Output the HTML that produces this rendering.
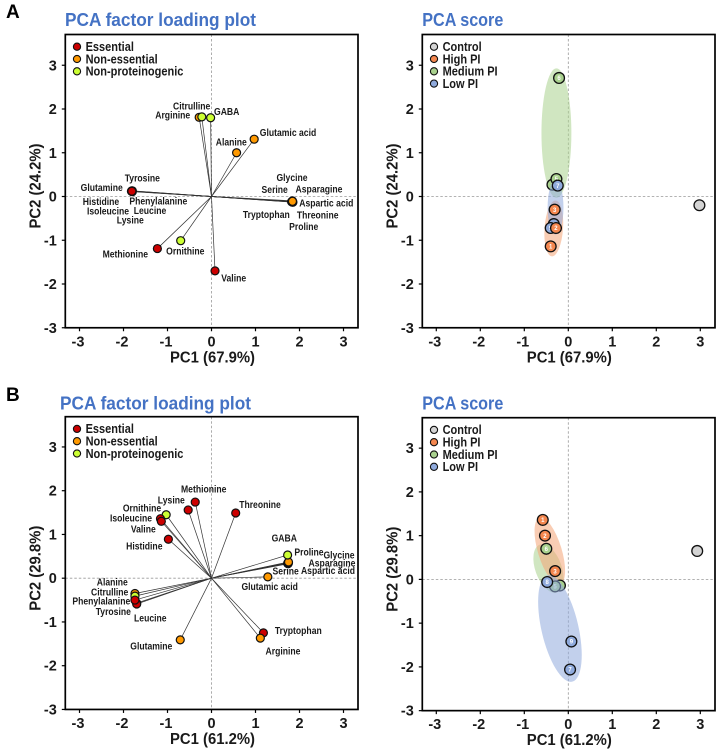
<!DOCTYPE html>
<html>
<head>
<meta charset="utf-8">
<style>
html,body{margin:0;padding:0;background:#fff;width:717px;height:749px;overflow:hidden}
svg{display:block;filter:blur(0.3px)}
text{font-family:"Liberation Sans",sans-serif;font-weight:bold;fill:#1a1a1a}
.lab{font-size:10.5px;text-anchor:middle}
.ttl{font-size:18.5px;fill:#4472c4}
.tk{font-size:14.5px}
.at{font-size:15.5px}
.lg{font-size:12.5px}
.pl{font-size:19px;fill:#000}
</style>
</head>
<body>
<svg id="chart" width="717" height="749" viewBox="0 0 717 749" xmlns="http://www.w3.org/2000/svg">
<text class="pl" x="6" y="18">A</text>
<text class="pl" x="6" y="401">B</text>
<text class="ttl" x="65" y="26" textLength="191" lengthAdjust="spacingAndGlyphs">PCA factor loading plot</text>
<text class="ttl" x="422.3" y="26" textLength="81" lengthAdjust="spacingAndGlyphs">PCA score</text>
<text class="ttl" x="60" y="409.3" textLength="191" lengthAdjust="spacingAndGlyphs">PCA factor loading plot</text>
<text class="ttl" x="422.3" y="409.3" textLength="81" lengthAdjust="spacingAndGlyphs">PCA score</text>
<g id="plots"></g>
<g id="labels-a">
<text class="lab" x="191.7" y="109.3">Citrulline</text>
<text class="lab" x="172.7" y="118.3">Arginine</text>
<text class="lab" x="226.7" y="115">GABA</text>
<text class="lab" x="288" y="136">Glutamic acid</text>
<text class="lab" x="231.3" y="145.3">Alanine</text>
<text class="lab" x="142.3" y="181.6">Tyrosine</text>
<text class="lab" x="101.7" y="191">Glutamine</text>
<text class="lab" x="101" y="205">Histidine</text>
<text class="lab" x="158.3" y="204.3">Phenylalanine</text>
<text class="lab" x="108" y="214.3">Isoleucine</text>
<text class="lab" x="150" y="214">Leucine</text>
<text class="lab" x="130.3" y="223.6">Lysine</text>
<text class="lab" x="292" y="181">Glycine</text>
<text class="lab" x="274.7" y="193">Serine</text>
<text class="lab" x="319" y="192.3">Asparagine</text>
<text class="lab" x="326.3" y="206.3">Aspartic acid</text>
<text class="lab" x="266.3" y="218">Tryptophan</text>
<text class="lab" x="317.7" y="218.3">Threonine</text>
<text class="lab" x="303.7" y="230">Proline</text>
<text class="lab" x="125.3" y="257.3">Methionine</text>
<text class="lab" x="185.3" y="254.3">Ornithine</text>
<text class="lab" x="233.7" y="281.3">Valine</text>
</g>
<g id="labels-b">
<text class="lab" x="203.7" y="492.6">Methionine</text>
<text class="lab" x="171.3" y="503.3">Lysine</text>
<text class="lab" x="260" y="508">Threonine</text>
<text class="lab" x="142" y="511.3">Ornithine</text>
<text class="lab" x="131" y="521.3">Isoleucine</text>
<text class="lab" x="143.3" y="532.3">Valine</text>
<text class="lab" x="284.3" y="541.6">GABA</text>
<text class="lab" x="144.3" y="549.3">Histidine</text>
<text class="lab" x="309" y="555.3">Proline</text>
<text class="lab" x="339" y="558.6">Glycine</text>
<text class="lab" x="332" y="566.3">Asparagine</text>
<text class="lab" x="285.7" y="574.6">Serine</text>
<text class="lab" x="328" y="574">Aspartic acid</text>
<text class="lab" x="112.3" y="585.6">Alanine</text>
<text class="lab" x="269.7" y="590">Glutamic acid</text>
<text class="lab" x="109.7" y="595.6">Citrulline</text>
<text class="lab" x="101.3" y="604.3">Phenylalanine</text>
<text class="lab" x="113.3" y="615">Tyrosine</text>
<text class="lab" x="150.3" y="621.3">Leucine</text>
<text class="lab" x="298.3" y="634">Tryptophan</text>
<text class="lab" x="151.3" y="649.6">Glutamine</text>
<text class="lab" x="283" y="654.3">Arginine</text>
</g>
</svg>
<script>
// Shared axis ticks
const tickValues = [-3, -2, -1, 0, 1, 2, 3];
const tickLabels = ['-3', '-2', '-1', '0', '1', '2', '3'];

// Loading plot A
const namesA = ['Tyrosine','Glutamine','Glycine','Serine','Asparagine','Proline','Histidine','Isoleucine','Leucine','Lysine','Phenylalanine','Tryptophan','Threonine','Aspartic acid','Arginine','Citrulline','GABA','Glutamic acid','Alanine','Methionine','Ornithine','Valine'];
const groupsA = ['N','N','N','N','N','N','E','E','E','E','E','E','E','N','N','P','P','N','N','E','P','E'];
const pc1A = [-1.80,-1.81,1.82,1.84,1.85,1.83,-1.82,-1.81,-1.80,-1.81,-1.81,1.83,1.84,1.84,-0.28,-0.22,-0.02,0.97,0.57,-1.23,-0.70,0.08];
const pc2A = [0.13,0.12,-0.12,-0.10,-0.13,-0.12,0.12,0.13,0.11,0.12,0.12,-0.12,-0.13,-0.11,1.81,1.82,1.80,1.31,1.00,-1.19,-1.01,-1.70];

// Loading plot B
const namesB = ['Glycine','Serine','Asparagine','Proline','Aspartic acid','GABA','Glutamic acid','Alanine','Citrulline','Tyrosine','Leucine','Phenylalanine','Methionine','Lysine','Ornithine','Isoleucine','Valine','Histidine','Threonine','Tryptophan','Arginine','Glutamine'];
const groupsB = ['N','N','N','N','N','P','N','N','P','N','E','E','E','E','P','E','E','E','E','E','N','N'];
const pc1B = [1.74,1.73,1.75,1.74,1.75,1.73,1.28,-1.74,-1.74,-1.70,-1.70,-1.74,-0.37,-0.53,-1.03,-1.16,-1.14,-0.98,0.55,1.18,1.11,-0.71];
const pc2B = [0.33,0.34,0.35,0.36,0.37,0.53,0.03,-0.35,-0.41,-0.57,-0.59,-0.50,1.74,1.56,1.45,1.36,1.30,0.89,1.49,-1.25,-1.37,-1.41];

// Score plot A
const scoreGroupsA = ['Control','Medium','Medium','Medium','Low','Low','Low','High','High','High'];
const scoreIdsA = ['','4','5','6','7','8','9','1','2','3'];
const scorePc1A = [2.98,-0.36,-0.27,-0.21,-0.24,-0.33,-0.40,-0.40,-0.28,-0.31];
const scorePc2A = [-0.20,0.27,0.40,2.71,0.25,-0.63,-0.72,-1.14,-0.72,-0.30];
const ellipseGroupsA = ['Medium','High','Low'];
const ellipsePc1A = [-0.27,-0.33,-0.29];
const ellipsePc2A = [1.45,-0.73,-0.25];
const ellipseMinorA = [0.34,0.21,0.18];
const ellipseMajorA = [1.48,0.64,0.62];
const ellipseTiltA = [0,4,0];

// Score plot B
const scoreGroupsB = ['Control','Medium','Medium','Medium','Low','Low','Low','High','High','High'];
const scoreIdsB = ['','4','5','6','7','8','9','1','2','3'];
const scorePc1B = [2.93,-0.19,-0.30,-0.50,0.04,-0.48,0.07,-0.58,-0.53,-0.30];
const scorePc2B = [0.65,-0.14,-0.16,0.70,-2.06,-0.06,-1.42,1.36,1.00,0.19];
const ellipseGroupsB = ['Medium','High','Low'];
const ellipsePc1B = [-0.45,-0.42,-0.19];
const ellipsePc2B = [0.25,0.65,-1.12];
const ellipseMinorB = [0.3,0.27,0.42];
const ellipseMajorB = [0.58,0.8,1.25];
const ellipseTiltB = [-20,-17,-13];

// Legends
const loadingLegend = ['Essential','Non-essential','Non-proteinogenic'];
const loadingLegendKeys = ['E','N','P'];
const scoreLegend = ['Control','High PI','Medium PI','Low PI'];
const scoreLegendKeys = ['Control','High','Medium','Low'];

const groupFill = {E:'#cc0000',N:'#ff9900',P:'#ccff33',Control:'#d4d4d4',High:'#f4874f',Medium:'#a9d18e',Low:'#8faadc'};
const ellipseFill = {High:'#f4a477',Medium:'#a9d18e',Low:'#8faadc'};

const NS = 'http://www.w3.org/2000/svg';
const root = document.getElementById('plots');
function mk(tag, attrs, parent, txt) {
  const el = document.createElementNS(NS, tag);
  for (const k in attrs) el.setAttribute(k, attrs[k]);
  if (txt !== undefined) el.textContent = txt;
  (parent || root).appendChild(el);
  return el;
}
function scales(p) {
  return { x: v => p.x0 + v * 44, y: v => p.y0 - v * 43.75 };
}
function frame(p, xTitle, yTitle, prefix) {
  const s = scales(p);
  const bottom = s.y(-3);
  const zx = mk('line', {x1:p.left,x2:p.right,y1:p.y0,y2:p.y0,stroke:'#999','stroke-width':0.8,'stroke-dasharray':'2.5 2'});
  
  
  const zy = mk('line', {x1:p.x0,x2:p.x0,y1:p.top,y2:bottom,stroke:'#999','stroke-width':0.8,'stroke-dasharray':'2.5 2'});
  
  
  tickValues.forEach((v, i) => {
    const tx = mk('line', {x1:s.x(v),x2:s.x(v),y1:bottom,y2:bottom+3.5,stroke:'#000','stroke-width':1.2});
    
    
    const ty = mk('line', {x1:p.left-3.5,x2:p.left,y1:s.y(v),y2:s.y(v),stroke:'#000','stroke-width':1.2});
    
    
    const lx = mk('text', {class:'tk',x:s.x(v)-(v<0?1.5:0),y:bottom+18.5,'text-anchor':'middle'}, root, tickLabels[i]);
    
    
    const ly = mk('text', {class:'tk',x:p.left-8.5,y:s.y(v)+5,'text-anchor':'end'}, root, tickLabels[i]);
    
    
  });
  const at = mk('text', {class:'at',x:p.x0+1,y:bottom+34.5,'text-anchor':'middle',textLength:85,lengthAdjust:'spacingAndGlyphs'}, root, xTitle);
  
  
  const cy = p.top + 151.5;
  const yt = mk('text', {class:'at',x:0,y:0,'text-anchor':'middle',textLength:85,lengthAdjust:'spacingAndGlyphs',transform:'translate('+(p.left-25)+','+cy+') rotate(-90)'}, root, yTitle);
  
  
}
function border(p, prefix) {
  const s = scales(p);
  const b = mk('rect', {x:p.left,y:p.top,width:p.right-p.left,height:s.y(-3)-p.top,fill:'none',stroke:'#000','stroke-width':1.7});
  
  
}
function legend(p, labels, keys, prefix) {
  labels.forEach((t, i) => {
    const y = p.top + 12.2 + i * 12.3;
    const c = mk('circle', {cx:p.left+11.7,cy:y,r:3.6,fill:groupFill[keys[i]],stroke:'#111','stroke-width':1.1});
    
    
    const tl = mk('text', {class:'lg',x:p.left+20.3,y:y+4.3}, root, t);
    
    
    tl.setAttribute('textLength', (tl.getComputedTextLength() * 0.88).toFixed(1));
    tl.setAttribute('lengthAdjust', 'spacingAndGlyphs');
  });
}
function loadingPlot(p, names, groups, pc1, pc2, xTitle, yTitle, prefix) {
  const s = scales(p);
  frame(p, xTitle, yTitle, prefix);
  names.forEach((n, i) => {
    const l = mk('line', {x1:s.x(0),y1:s.y(0),x2:s.x(pc1[i]),y2:s.y(pc2[i]),stroke:'#333','stroke-width':0.7});
    
    
  });
  names.forEach((n, i) => {
    const c = mk('circle', {cx:s.x(pc1[i]),cy:s.y(pc2[i]),r:4,fill:groupFill[groups[i]],stroke:'#111','stroke-width':1.2});
    
    
  });
  border(p, prefix);
  legend(p, loadingLegend, loadingLegendKeys, prefix);
}
function drawEllipse(s, g, cx, cy, minor, major, tilt, prefix) {
  const px = s.x(cx), py = s.y(cy);
  const e = mk('ellipse', {cx:px,cy:py,rx:minor*44,ry:major*43.75,fill:ellipseFill[g],opacity:0.55,transform:'rotate('+tilt+' '+px+' '+py+')'});
  
  
}
function drawScores(s, want, groups, ids, pc1, pc2, prefix) {
  groups.forEach((g, i) => {
    if (g !== want) return;
    const px = s.x(pc1[i]), py = s.y(pc2[i]);
    const c = mk('circle', {cx:px,cy:py,r:5.4,fill:groupFill[g],stroke:'#111','stroke-width':1.3});
    
    
    if (ids[i]) {
      const t = mk('text', {x:px,y:py+2.2,'text-anchor':'middle','font-size':6,style:'fill:#fff'}, root, ids[i]);
      
      
    }
  });
}
function scorePlot(p, groups, ids, pc1, pc2, eg, ex, ey, emin, emaj, etilt, xTitle, yTitle, prefix) {
  const s = scales(p);
  frame(p, xTitle, yTitle, prefix);
  drawEllipse(s, eg[0], ex[0], ey[0], emin[0], emaj[0], etilt[0], prefix);
  drawEllipse(s, eg[1], ex[1], ey[1], emin[1], emaj[1], etilt[1], prefix);
  drawScores(s, 'Medium', groups, ids, pc1, pc2, prefix);
  drawEllipse(s, eg[2], ex[2], ey[2], emin[2], emaj[2], etilt[2], prefix);
  drawScores(s, 'Low', groups, ids, pc1, pc2, prefix);
  drawScores(s, 'High', groups, ids, pc1, pc2, prefix);
  drawScores(s, 'Control', groups, ids, pc1, pc2, prefix);
  border(p, prefix);
  legend(p, scoreLegend, scoreLegendKeys, prefix);
}
loadingPlot({left:65.3,right:358,top:34.5,x0:211.5,y0:196.5}, namesA, groupsA, pc1A, pc2A, 'PC1 (67.9%)', 'PC2 (24.2%)', 'loading-a');
scorePlot({left:422.3,right:715,top:34.5,x0:568.3,y0:196.5}, scoreGroupsA, scoreIdsA, scorePc1A, scorePc2A, ellipseGroupsA, ellipsePc1A, ellipsePc2A, ellipseMinorA, ellipseMajorA, ellipseTiltA, 'PC1 (67.9%)', 'PC2 (24.2%)', 'score-a');
loadingPlot({left:65.3,right:358,top:416.7,x0:211.5,y0:578.2}, namesB, groupsB, pc1B, pc2B, 'PC1 (61.2%)', 'PC2 (29.8%)', 'loading-b');
scorePlot({left:422.3,right:715,top:417.7,x0:568.3,y0:579.4}, scoreGroupsB, scoreIdsB, scorePc1B, scorePc2B, ellipseGroupsB, ellipsePc1B, ellipsePc2B, ellipseMinorB, ellipseMajorB, ellipseTiltB, 'PC1 (61.2%)', 'PC2 (29.8%)', 'score-b');

document.querySelectorAll('.lab').forEach(t => {
  t.setAttribute('textLength', (t.getComputedTextLength() * 0.82).toFixed(1));
  t.setAttribute('lengthAdjust', 'spacingAndGlyphs');
});
</script>
</body>
</html>
